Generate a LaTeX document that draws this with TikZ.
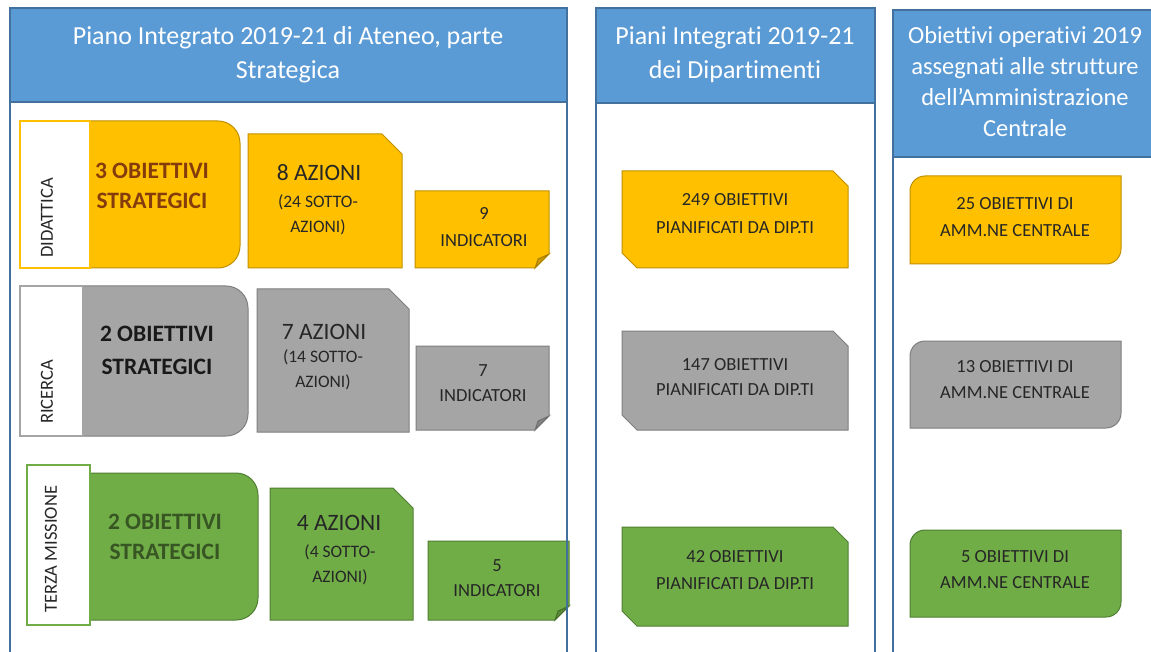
\documentclass[tikz,border=0pt]{standalone}
\usepackage{fontspec}
\setmainfont{Carlito}[Ligatures=NoCommon]
\usepackage{tikz}
\definecolor{hdrblue}{HTML}{5B9BD5}
\definecolor{hdrline}{HTML}{41719C}
\definecolor{ylwfill}{HTML}{FFC000}
\definecolor{ylwline}{HTML}{BF9000}
\definecolor{gryfill}{HTML}{A5A5A5}
\definecolor{gryline}{HTML}{7F7F7F}
\definecolor{grnfill}{HTML}{70AD47}
\definecolor{grnline}{HTML}{507E32}
\definecolor{objbrown}{HTML}{843C0C}
\definecolor{objgreen}{HTML}{375623}
\newcommand{\sz}[2]{\fontsize{#1}{#2}\selectfont}
\newcommand{\roundright}[5]{\draw[#1] (#2,#3) -- ({#4-22},#3) arc[start angle=90,end angle=0,radius=22pt] -- (#4,{#5-22}) arc[start angle=0,end angle=-90,radius=22pt] -- (#2,#5) -- cycle;}
\newcommand{\snipone}[5]{\draw[#1] (#2,#3) -- ({#4-20},#3) -- (#4,{#3+20}) -- (#4,#5) -- (#2,#5) -- cycle;}
\newcommand{\snipdiag}[5]{\draw[#1] (#2,#3) -- ({#4-15},#3) -- (#4,{#3+15}) -- (#4,#5) -- ({#2+15},#5) -- (#2,{#5-15}) -- cycle;}
\newcommand{\rounddiag}[5]{\draw[#1] (#2,{#3+15}) arc[start angle=180,end angle=90,radius=15pt] -- (#4,#3) -- (#4,{#5-15}) arc[start angle=0,end angle=-90,radius=15pt] -- (#2,#5) -- cycle;}
\newcommand{\notebox}[5]{\draw[#1] (#2,#3) -- (#4,#3) -- (#4,{#5-14}) -- ({#4-14},#5) -- (#2,#5) -- cycle;
  \draw[#1] (#4,{#5-14}) -- ({#4-14},#5) -- ({#4-11},{#5-9}) -- cycle;
  \fill[black,opacity=0.2] (#4,{#5-14}) -- ({#4-14},#5) -- ({#4-11},{#5-9}) -- cycle;}

\begin{document}
\begin{tikzpicture}[x=1pt,y=-1pt,
      hdr/.style={fill=hdrblue,draw=hdrline,line width=1.2pt},
      body/.style={draw=hdrline,line width=1.2pt},
      hdrtxt/.style={text=white,align=center,inner sep=0pt},
      ylw/.style={fill=ylwfill,draw=ylwline,line width=1pt},
      gry/.style={fill=gryfill,draw=gryline,line width=1pt},
      grn/.style={fill=grnfill,draw=grnline,line width=1pt},
      lab/.style={fill=white,line width=1.5pt},
      labtxt/.style={rotate=90,anchor=west,inner sep=0pt,font=\sz{18.5}{22},text=black!85},
      txt/.style={align=center,inner sep=0pt,text=black!85},
      objtxt/.style={txt,font=\sz{23.5}{30}\bfseries},
      aztxt/.style={txt,font=\sz{23.5}{28}},
      subtxt/.style={txt,font=\sz{17.5}{24.5}},
      indtxt/.style={txt,font=\sz{18.5}{27}}]
      \fill[white] (0,0) rectangle (1151,652);
      \useasboundingbox (0,0) rectangle (1151,652);

      \roundright{ylw}{85}{121}{240}{268}
      \draw[lab,draw=ylwfill] (20,121) rectangle (90,268);
      \node[labtxt] (didattica) at (47,258) {DIDATTICA};
      \node[objtxt,text=objbrown] (obj1) at (152,186) {3 OBIETTIVI\\STRATEGICI};
      \snipone{ylw}{248}{134}{402}{268}
      \node[aztxt] (az1) at (319,173) {8 AZIONI};
      \node[subtxt] (saz1) at (318,215) {(24 SOTTO-\\AZIONI)};
      \notebox{ylw}{415}{191}{549}{268}
      \node[indtxt] (ind1) at (484,227) {9\\INDICATORI};

      \roundright{gry}{75}{286}{248}{436}
      \draw[lab,draw=gryfill] (20,286) rectangle (83,436);
      \node[labtxt] (ricerca) at (47,424) {RICERCA};
      \node[objtxt,font=\sz{23.5}{33}\bfseries,text=black!90] (obj2) at (157,350) {2 OBIETTIVI\\STRATEGICI};
      \snipone{gry}{257}{289}{409}{432}
      \node[aztxt] (az2) at (324,332) {7 AZIONI};
      \node[subtxt] (saz2) at (323,370) {(14 SOTTO-\\AZIONI)};
      \notebox{gry}{416}{346}{549}{430}
      \node[indtxt,font=\sz{18.5}{25}] (ind2) at (483,383) {7\\INDICATORI};

      \roundright{grn}{85}{473}{258}{620}
      \draw[lab,draw=grnfill] (27,465) rectangle (90,625);
      \node[labtxt] (terza) at (51,613) {TERZA MISSIONE};
      \node[objtxt,text=objgreen] (obj3) at (165,537) {2 OBIETTIVI\\STRATEGICI};
      \snipone{grn}{270}{488}{413}{620}
      \node[aztxt] (az3) at (339,523) {4 AZIONI};
      \node[subtxt,font=\sz{17.5}{25}] (saz3) at (340,565) {(4 SOTTO-\\AZIONI)};
      \notebox{grn}{428}{541}{569}{620}
      \node[indtxt,font=\sz{18.5}{25}] (ind3) at (497,578) {5\\INDICATORI};

      \snipdiag{ylw}{622}{171}{848}{268}
      \node[indtxt,font=\sz{18.5}{28}] (dip1) at (735,214) {249 OBIETTIVI\\PIANIFICATI DA DIP.TI};
      \snipdiag{gry}{622}{331}{848}{430}
      \node[indtxt,font=\sz{18.5}{25}] (dip2) at (735,377) {147 OBIETTIVI\\PIANIFICATI DA DIP.TI};
      \snipdiag{grn}{622}{527}{848}{626}
      \node[indtxt] (dip3) at (735,570) {42 OBIETTIVI\\PIANIFICATI DA DIP.TI};

      \rounddiag{ylw}{910}{176}{1121}{264}
      \node[indtxt] (amm1) at (1015,217) {25 OBIETTIVI DI\\AMM.NE CENTRALE};
      \rounddiag{gry}{910}{341}{1121}{428}
      \node[indtxt,font=\sz{18.5}{26}] (amm2) at (1015,380) {13 OBIETTIVI DI\\AMM.NE CENTRALE};
      \rounddiag{grn}{910}{530}{1121}{617}
      \node[indtxt,font=\sz{18.5}{26}] (amm3) at (1015,570) {5 OBIETTIVI DI\\AMM.NE CENTRALE};

      \draw[body] (10,102) rectangle (567,670);
      \draw[body] (596,103) rectangle (875,670);
      \draw[body] (893,157) rectangle (1170,670);
      \draw[hdr] (10,8) rectangle (567,102);
      \draw[hdr] (596,8) rectangle (875,103);
      \draw[hdr] (893,10) rectangle (1170,157);
      \node[hdrtxt,font=\sz{26}{34}] (ateneo) at (288,55) {Piano Integrato 2019-21 di Ateneo, parte\\Strategica};
      \node[hdrtxt,font=\sz{26}{34}] (dipart) at (735,55) {Piani Integrati 2019-21\\dei Dipartimenti};
      \node[hdrtxt,font=\sz{24.5}{31}] (ammin) at (1025,82) {Obiettivi operativi 2019\\assegnati alle strutture\\dell’Amministrazione\\Centrale};
\end{tikzpicture}
\end{document}
